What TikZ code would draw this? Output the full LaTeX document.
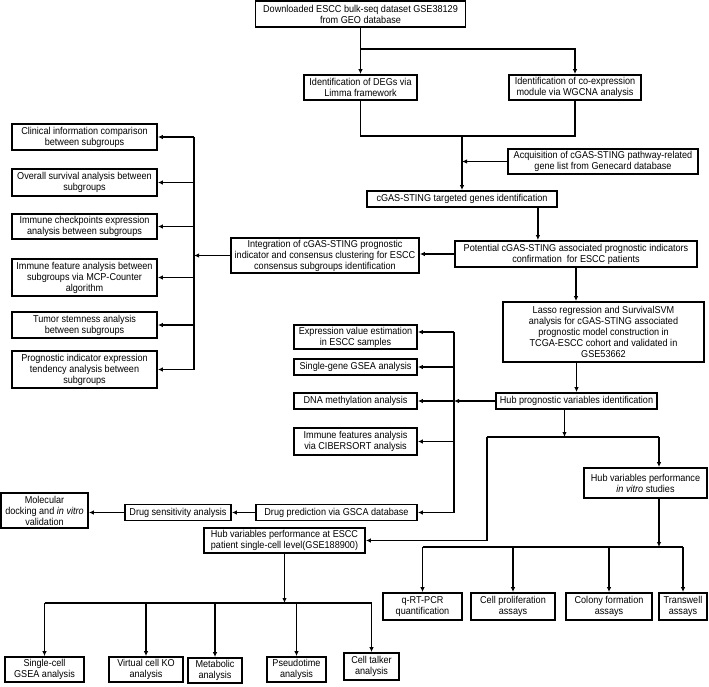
\documentclass[tikz,border=0pt]{standalone}
\usepackage{fontspec}
\setmainfont{Liberation Sans}[FakeStretch=0.91]
\usetikzlibrary{arrows.meta}

\begin{document}
\begin{tikzpicture}[x=1pt, y=-1pt, font=\fontsize{10}{11}\selectfont,
  bx/.style={draw, line width=1.8pt, align=center, inner sep=1pt},
  sz/.style 2 args={minimum width=#1pt, minimum height=#2pt},
  ln/.style={line width=1.4pt},
  arr/.style={ln, -{Latex[length=5pt, width=4.5pt]}}]
\useasboundingbox (0,0) rectangle (709,686);
% main pipeline
\node[bx,sz={210}{26}](dl) at (360.5,14){Downloaded ESCC bulk-seq dataset GSE38129\\from GEO database};
\node[bx,sz={113}{25}](deg) at (360.5,87.5){Identification of DEGs via\\Limma framework};
\node[bx,sz={132}{25}](wgc) at (575,87.5){Identification of co-expression\\module via WGCNA analysis};
\node[bx,sz={190}{25}](acq) at (603,161.5){Acquisition of cGAS-STING pathway-related\\gene list from Genecard database};
\node[bx,sz={190}{16}](tgt) at (462,199){cGAS-STING targeted genes identification};
\node[bx,sz={242}{26}](pot) at (576,254){Potential cGAS-STING associated prognostic indicators\\confirmation\ \ for ESCC patients};
\node[bx,sz={188}{35}](int) at (325,255.5){Integration of cGAS-STING prognostic\\indicator and consensus clustering for ESCC\\consensus subgroups identification};
\node[bx,sz={201}{60}](lasso) at (603.5,332){Lasso regression and SurvivalSVM\\analysis for cGAS-STING associated\\prognostic model construction in\\TCGA-ESCC cohort and validated in\\GSE53662};
\node[bx,sz={161}{16}](hub) at (576.5,401){Hub prognostic variables identification};
% subgroup analyses
\node[bx,sz={145}{26}](clin) at (84.5,137){Clinical information comparison\\between subgroups};
\node[bx,sz={145}{27}](os) at (84.5,182.5){Overall survival analysis between\\subgroups};
\node[bx,sz={145}{25}](ick) at (84.5,226.5){Immune checkpoints expression\\analysis between subgroups};
\node[bx,sz={145}{37}](imf) at (84.5,277.5){Immune feature analysis between\\subgroups via MCP-Counter\\algorithm};
\node[bx,sz={145}{26}](tsa) at (84.5,325){Tumor stemness analysis\\between subgroups};
\node[bx,sz={145}{37}](pie) at (84.5,369.5){Prognostic indicator expression\\tendency analysis between\\subgroups};
% hub variable analyses
\node[bx,sz={123}{24}](exv) at (355.5,337){Expression value estimation\\in ESCC samples};
\node[bx,sz={123}{16}](sg) at (355.5,367){Single-gene GSEA analysis};
\node[bx,sz={123}{16}](dna) at (355.5,401){DNA methylation analysis};
\node[bx,sz={123}{27}](cib) at (355.5,441.5){Immune features analysis\\via CIBERSORT analysis};
\node[bx,sz={161}{16}](drp) at (336.5,512.5){Drug prediction via GSCA database};
\node[bx,sz={106}{16}](dsa) at (178,512.5){Drug sensitivity analysis};
\node[bx,sz={87}{35}](mol) at (44.5,510.5){Molecular\\docking and \textit{in vitro}\\validation};
% single-cell level
\node[bx,sz={161}{25}](sc) at (284.5,540.5){Hub variables performance at ESCC\\patient single-cell level(GSE188900)};
\node[bx,sz={79}{25}](scg) at (44.5,669.5){Single-cell\\GSEA analysis};
\node[bx,sz={74}{25}](vko) at (146,669.5){Virtual cell KO\\analysis};
\node[bx,sz={54}{25}](met) at (215,670.5){Metabolic\\analysis};
\node[bx,sz={59}{25}](pst) at (296.5,669.5){Pseudotime\\analysis};
\node[bx,sz={55}{27}](ctk) at (371.5,666.5){Cell talker\\analysis};
% in vitro studies
\node[bx,sz={123}{30}](vit) at (645.5,483){Hub variables performance\\\textit{in vitro} studies};
\node[bx,sz={79}{27}](qrt) at (422.5,606.5){q-RT-PCR\\quantification};
\node[bx,sz={84}{27}](cpa) at (513,606.5){Cell proliferation\\assays};
\node[bx,sz={86}{27}](cfa) at (609,606.5){Colony formation\\assays};
\node[bx,sz={48}{27}](trw) at (683,606.5){Transwell\\assays};

\coordinate (split) at (360.5,49); \coordinate (merge) at (462,136);
\coordinate (lbus) at (194,0); \coordinate (mbus) at (454,0);
\coordinate (lfork) at (487,437); \coordinate (rfork) at (659,437);
\coordinate (vbus) at (0,547); \coordinate (scbus) at (0,603);
\path ([xshift=-20pt]tgt.south east) coordinate (t1);
\path ([xshift=-12pt]hub.south) coordinate (h1);
\path ([yshift=5pt]exv.east) coordinate (e1);

\draw[ln](dl.south)--(split);
\draw[arr](split)--(deg.north);
\draw[arr](split)-|(wgc.north);
\draw[ln](deg.south)|-(merge)-|(wgc.south);
\draw[arr](merge)--(tgt.north);
\draw[arr](acq.west)--(acq.west -| merge);
\draw[arr](t1)--(t1 |- pot.north);
\draw[arr](pot.west)--(pot.west -| int.east);
\draw[arr](int.west)--(int.west -| lbus);
\draw[ln](clin.east -| lbus)--(pie.east -| lbus);
\foreach \n in {clin,os,ick,imf,tsa,pie} \draw[arr](\n.east -| lbus)--(\n.east);
\draw[arr](pot.south)--(pot.south |- lasso.north);
\draw[arr](hub.north |- lasso.south)--(hub.north);
\draw[arr](hub.west)--(hub.west -| mbus);
\draw[ln](e1 -| mbus)--(drp.east -| mbus);
\draw[arr](e1 -| mbus)--(e1);
\foreach \n in {sg,dna,cib,drp} \draw[arr](\n.east -| mbus)--(\n.east);
\draw[arr](drp.west)--(dsa.east);
\draw[arr](dsa.west)--(dsa.west -| mol.east);
\draw[arr](h1)--(h1 |- lfork);
\draw[ln](lfork)--(rfork);
\draw[arr](lfork)|-(sc.east);
\draw[arr](rfork)--(rfork |- vit.north);
\draw[arr](rfork |- vit.south)--(rfork |- vbus);
\draw[ln](qrt.north |- vbus)--(trw.north |- vbus);
\foreach \n in {qrt,cpa,cfa,trw} \draw[arr](\n.north |- vbus)--(\n.north);
\draw[arr](sc.south)--(sc.south |- scbus);
\draw[ln](scg.north |- scbus)--(ctk.north |- scbus);
\foreach \n in {scg,vko,met,pst,ctk} \draw[arr](\n.north |- scbus)--(\n.north);
\end{tikzpicture}
\end{document}
